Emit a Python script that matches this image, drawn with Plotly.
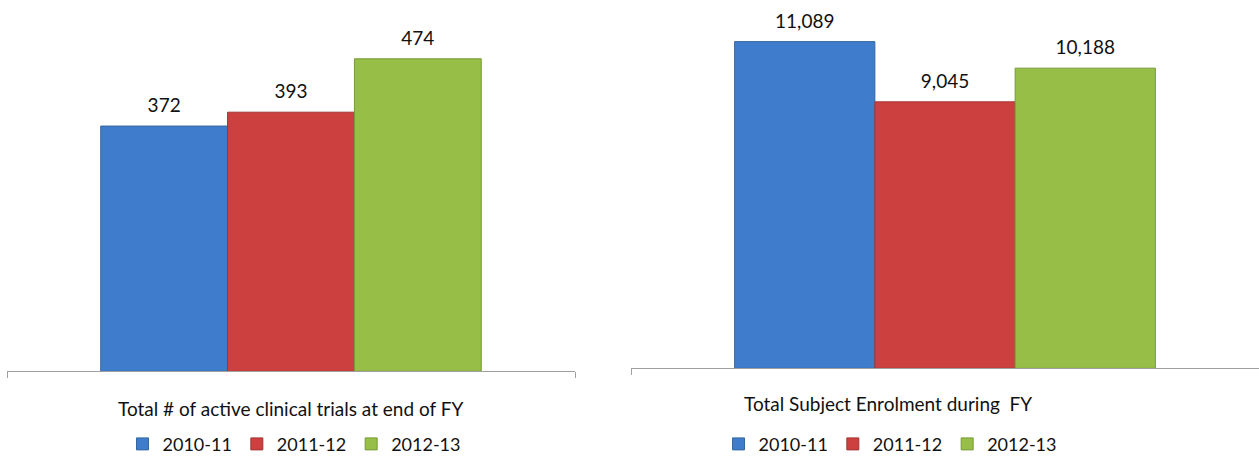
import plotly.graph_objects as go

# Fiscal years shown in both panels
years = ["2010-11", "2011-12", "2012-13"]
colors = ["#3f7dcc", "#cc4040", "#97bf47"]
edge_colors = ["#34679f", "#a23434", "#779a38"]

# Panel 1: active clinical trials at end of FY
trials_category = ["Total # of active clinical trials at end of FY"]
trials_values = [372, 393, 474]

# Panel 2: subject enrolment during FY
enrol_category = ["Total Subject Enrolment during  FY"]
enrol_values = [11089, 9045, 10188]

W, H = 1259, 463
FONT = "Lato, 'Open Sans', sans-serif"
TXT = "#111"


def add_panel(category, values, xa, ya, legend_name):
    for i, yr in enumerate(years):
        fig.add_trace(go.Bar(
            x=category, y=[values[i]], name=yr,
            offsetgroup=str(i),
            marker=dict(color=colors[i], line=dict(color=edge_colors[i], width=1)),
            xaxis=xa, yaxis=ya, legend=legend_name, hoverinfo="skip",
        ))
        # value label sitting above its bar (invisible marker gives the offset)
        fig.add_trace(go.Scatter(
            x=category, y=[values[i]], mode="markers+text",
            offsetgroup=str(i),
            marker=dict(size=13, color="rgba(0,0,0,0)"),
            text=[f"{values[i]:,}"], textposition="top center",
            textfont=dict(family=FONT, size=19, color=TXT),
            cliponaxis=False, showlegend=False, hoverinfo="skip",
            xaxis=xa, yaxis=ya,
        ))


fig = go.Figure()
add_panel(trials_category, trials_values, "x", "y", "legend")
add_panel(enrol_category, enrol_values, "x2", "y2", "legend2")

axis_common = dict(
    type="category", range=[-0.5, 0.5], tickson="boundaries",
    ticks="outside", ticklen=6, tickcolor="#a0a0a0",
    showline=True, linecolor="#a0a0a0", linewidth=1,
    showticklabels=False, showgrid=False, zeroline=False, fixedrange=True,
)

legend_common = dict(
    orientation="h", xanchor="center", y=(H - 451) / H, yanchor="middle",
    itemwidth=30, font=dict(family=FONT, size=18, color=TXT),
    bgcolor="rgba(0,0,0,0)", traceorder="normal",
)

fig.update_layout(
    width=W, height=H,
    margin=dict(l=0, r=0, t=0, b=0),
    paper_bgcolor="white", plot_bgcolor="white",
    barmode="group", bargap=0.33, bargroupgap=0,
    scattermode="group", scattergap=0.33,
    font=dict(family=FONT, size=19, color=TXT),
    xaxis=dict(domain=[7 / W, 575 / W], anchor="y", **axis_common),
    yaxis=dict(domain=[(H - 377) / H, (H - 42.3) / H], range=[0, 500],
               visible=False, anchor="x"),
    xaxis2=dict(domain=[631 / W, 1.0], anchor="y2", **axis_common),
    yaxis2=dict(domain=[(H - 374) / H, (H - 15) / H], range=[0, 12000],
                visible=False, anchor="x2"),
    legend=dict(x=294 / W, **legend_common),
    legend2=dict(x=890 / W, **legend_common),
    annotations=[
        dict(text=trials_category[0], x=290 / W, y=(H - 415) / H,
             xref="paper", yref="paper", showarrow=False,
             xanchor="center", yanchor="middle",
             font=dict(family=FONT, size=19, color=TXT)),
        dict(text=enrol_category[0], x=888 / W, y=(H - 410) / H,
             xref="paper", yref="paper", showarrow=False,
             xanchor="center", yanchor="middle",
             font=dict(family=FONT, size=19, color=TXT)),
    ],
)

fig.write_html("out.html", config={"displayModeBar": False})
